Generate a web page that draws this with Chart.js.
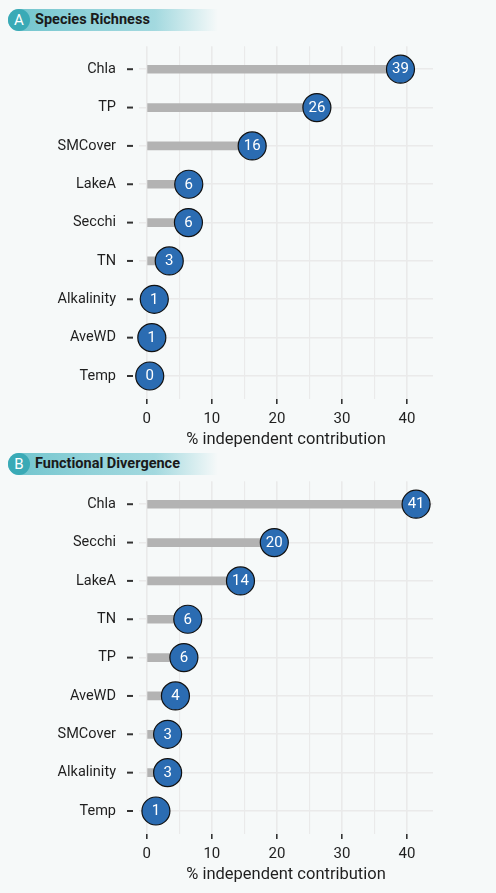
<!DOCTYPE html>
<html>
<head>
<meta charset="utf-8">
<script src="https://cdn.jsdelivr.net/npm/chart.js@4.4.1/dist/chart.umd.min.js"></script>
<style>
  body { margin: 0; background: #f6f9f9; font-family: Roboto, sans-serif; }
  #wrap { position: relative; width: 496px; height: 893px; overflow: hidden; }
  .title {
    position: absolute; left: 8px; width: 210px; height: 22px;
    border-radius: 11px 0 0 11px;
    background: linear-gradient(to right, #6fc4cd 0%, #92d2d9 40%, #a3d9df 70%, rgba(163,217,223,0) 100%);
  }
  .badge {
    position: absolute; left: 0; top: 0; width: 22px; height: 22px; border-radius: 50%;
    background: #3aaab6; color: #fff; font-size: 15px; line-height: 22px; text-align: center;
  }
  .title .t {
    position: absolute; left: 27px; top: 0; line-height: 22px;
    font-weight: bold; font-size: 14.5px; color: #1a1a1a; white-space: nowrap;
  }
  canvas { position: absolute; left: 0; }
</style>
</head>
<body>
<div id="wrap">
  <div class="title" style="top:9px"><div class="badge">A</div><span class="t">Species Richness</span></div>
  <canvas id="chartA" width="496" height="419" style="top:31px"></canvas>
  <div class="title" style="top:453px"><div class="badge">B</div><span class="t">Functional Divergence</span></div>
  <canvas id="chartB" width="496" height="427" style="top:466px"></canvas>
</div>
<script>
// data (% independent contribution)
const richnessVars = ['Chla', 'TP', 'SMCover', 'LakeA', 'Secchi', 'TN', 'Alkalinity', 'AveWD', 'Temp'];
const richnessValues = [39.0, 26.15, 16.2, 6.45, 6.4, 3.45, 1.15, 0.77, 0.45];

const divergenceVars = ['Chla', 'Secchi', 'LakeA', 'TN', 'TP', 'AveWD', 'SMCover', 'Alkalinity', 'Temp'];
const divergenceValues = [41.4, 19.6, 14.4, 6.3, 5.7, 4.4, 3.2, 3.2, 1.4];

const xGridValues = [0, 5, 10, 15, 20, 25, 30, 35, 40];
const xTickLabels = [0, 10, 20, 30, 40];

// small dashes left of the panel, like ggplot axis ticks
const yDashes = {
  id: 'yDashes',
  afterDraw(chart) {
    const { ctx, chartArea, scales: { y } } = chart;
    ctx.save();
    ctx.strokeStyle = '#333';
    ctx.lineWidth = 2;
    y.ticks.forEach(t => {
      const py = y.getPixelForValue(t.value);
      ctx.beginPath();
      ctx.moveTo(chartArea.left - 12, py);
      ctx.lineTo(chartArea.left - 6, py);
      ctx.stroke();
    });
    ctx.restore();
  }
};

// numbers inside the circles
const pointLabels = {
  id: 'pointLabels',
  afterDatasetsDraw(chart) {
    const { ctx } = chart;
    const meta = chart.getDatasetMeta(0);
    const data = chart.data.datasets[0].data;
    ctx.save();
    ctx.fillStyle = '#fff';
    ctx.font = '15px Roboto';
    ctx.textAlign = 'center';
    ctx.textBaseline = 'middle';
    meta.data.forEach((el, i) => {
      ctx.fillText(String(Math.round(data[i].x)), el.x, el.y + 0.5);
    });
    ctx.restore();
  }
};

function lollipop(id, vars, values, padBottom) {
  const pts = values.map((v, i) => ({ x: v, y: i }));
  return new Chart(document.getElementById(id), {
    type: 'bar',
    data: {
      datasets: [
        {
          type: 'scatter',
          data: pts,
          pointRadius: 14,
          pointHoverRadius: 14,
          backgroundColor: '#2b6cb2',
          borderColor: '#111',
          borderWidth: 1.2,
          clip: false,
          order: 1
        },
        {
          type: 'bar',
          data: pts,
          backgroundColor: '#b3b3b3',
          barThickness: 8,
          order: 2
        }
      ]
    },
    options: {
      indexAxis: 'y',
      responsive: false,
      animation: false,
      layout: { padding: { top: 4, right: 63, bottom: padBottom, left: 0 } },
      plugins: { legend: { display: false }, tooltip: { enabled: false } },
      scales: {
        x: {
          type: 'linear',
          min: -1.2,
          max: 44,
          offset: false,
          afterBuildTicks: axis => { axis.ticks = xGridValues.map(v => ({ value: v })); },
          afterFit: axis => { axis.height = 51; },
          border: { display: false },
          grid: {
            offset: false,
            color: '#eaeaea',
            lineWidth: c => xTickLabels.includes(c.tick.value) ? 1.6 : 1.1,
            tickLength: 5,
            tickWidth: 1.6,
            tickColor: c => xTickLabels.includes(c.tick.value) ? '#333' : 'rgba(0,0,0,0)'
          },
          ticks: {
            padding: 6,
            color: '#1f1f1f',
            font: { family: 'Roboto', size: 15 },
            maxRotation: 0,
            autoSkip: false,
            callback: v => xTickLabels.includes(v) ? String(v) : ''
          },
          title: {
            display: true,
            text: '% independent contribution',
            color: '#1f1f1f',
            font: { family: 'Roboto', size: 16.5 },
            padding: { top: 0, bottom: 0 }
          }
        },
        y: {
          type: 'linear',
          min: -0.6,
          max: vars.length - 0.4,
          reverse: true,
          offset: false,
          afterBuildTicks: axis => { axis.ticks = vars.map((c, i) => ({ value: i })); },
          afterFit: axis => {
            axis.width = 139;
            axis.paddingTop = 0;
            axis.paddingBottom = 0;
          },
          border: { display: false },
          grid: {
            offset: false,
            color: '#eaeaea',
            lineWidth: 1.6,
            drawTicks: true,
            tickLength: 23,
            tickColor: 'rgba(0,0,0,0)'
          },
          ticks: {
            padding: 0,
            color: '#1f1f1f',
            font: { family: 'Roboto', size: 14.5 },
            autoSkip: false,
            callback: v => vars[v]
          }
        }
      }
    },
    plugins: [yDashes, pointLabels]
  });
}

lollipop('chartA', richnessVars, richnessValues, 0);
lollipop('chartB', divergenceVars, divergenceValues, 8);
</script>
</body>
</html>
